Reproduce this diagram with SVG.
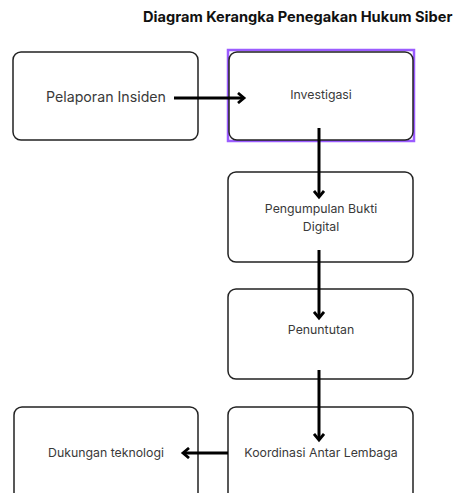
<svg xmlns="http://www.w3.org/2000/svg" width="456" height="493" viewBox="0 0 456 493">
<defs>
<style>
.box{fill:#fff;stroke:#222;stroke-width:1.5}
.t{font-family:Inter,"Noto Sans",sans-serif;font-size:12.3px;fill:#3a3a3a;text-anchor:middle}
.big{font-size:14.2px}
.title{font-family:Inter,"Noto Sans",sans-serif;font-size:14.6px;font-weight:bold;fill:#111}
.c{stroke:#000;stroke-width:3;fill:none}
</style>
<marker id="ah" markerWidth="12" markerHeight="12" refX="8" refY="6" orient="auto" markerUnits="userSpaceOnUse">
<polyline points="2,1 8,6 2,11" fill="none" stroke="#000" stroke-width="2.8"/>
</marker>
</defs>
<rect width="456" height="493" fill="#fff"/>
<text class="title" x="143" y="22">Diagram Kerangka Penegakan Hukum Siber</text>
<g id="n1"><rect class="box" x="13" y="52" width="185" height="88" rx="8"/><text class="t big" x="106" y="102">Pelaporan Insiden</text></g>
<g id="n2"><rect x="228" y="50" width="186" height="91" fill="none" stroke="#9b5cff" stroke-width="2.5"/><rect class="box" x="229" y="52" width="184" height="88" rx="8"/><text class="t" x="321" y="99">Investigasi</text></g>
<g id="n3"><rect class="box" x="228" y="172" width="185" height="90" rx="8"/><text class="t" x="321" y="213">Pengumpulan Bukti</text><text class="t" x="321" y="231">Digital</text></g>
<g id="n4"><rect class="box" x="228" y="289" width="185" height="90" rx="8"/><text class="t" x="321" y="334">Penuntutan</text></g>
<g id="n5"><rect class="box" x="228" y="407" width="185" height="100" rx="8"/><text class="t" x="321" y="457">Koordinasi Antar Lembaga</text></g>
<g id="n6"><rect class="box" x="14" y="407" width="184" height="100" rx="8"/><text class="t" x="106" y="457">Dukungan teknologi</text></g>
<g id="connectors">
<line class="c" x1="174" y1="98" x2="244" y2="98" marker-end="url(#ah)"/>
<line class="c" x1="319" y1="128" x2="319" y2="197" marker-end="url(#ah)"/>
<line class="c" x1="319" y1="250" x2="319" y2="318" marker-end="url(#ah)"/>
<line class="c" x1="319" y1="370" x2="319" y2="440" marker-end="url(#ah)"/>
<line class="c" x1="228" y1="453" x2="183" y2="453" marker-end="url(#ah)"/>
</g>
</svg>
